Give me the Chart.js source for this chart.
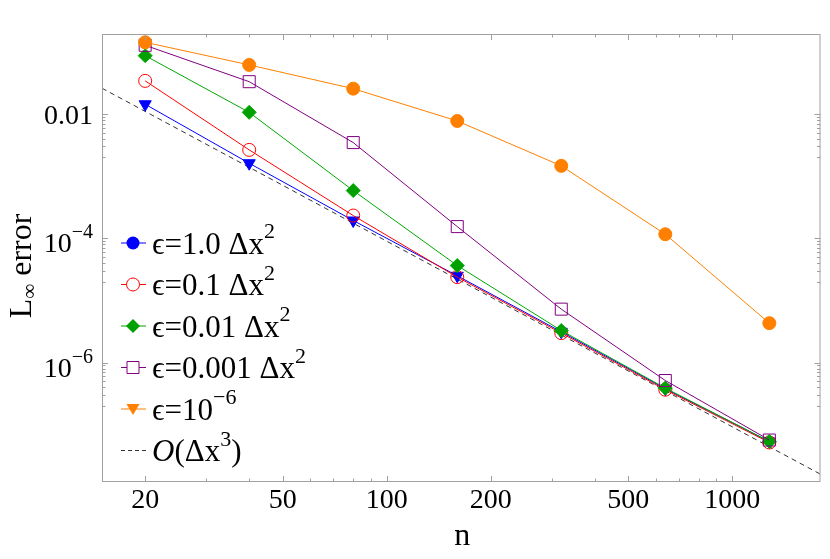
<!DOCTYPE html>
<html>
<head>
<meta charset="utf-8">
<script src="https://cdn.jsdelivr.net/npm/chart.js@4.4.1/dist/chart.umd.min.js"></script>
<style>
  html, body { margin: 0; padding: 0; background: #fff; }
  #wrap { width: 830px; height: 559px; }
</style>
</head>
<body>
<div id="wrap"><canvas id="errChart" width="830" height="559"></canvas></div>
<script>
// L-infinity error against n, log-log

const nValues = [20, 40, 80, 160, 320, 640, 1280]

const errEps1 = [0.0143, 0.00161, 1.93e-4, 2.49e-5, 3.13e-6, 3.8e-7, 5.37e-8]
const errEps01 = [0.034, 0.00264, 2.32e-4, 2.37e-5, 2.98e-6, 3.66e-7, 5.19e-8]
const errEps001 = [0.0865, 0.0106, 5.85e-4, 3.64e-5, 3.28e-6, 3.89e-7, 5.4e-8]
const errEps0001 = [0.127, 0.033, 0.00346, 1.54e-4, 7.24e-6, 5.15e-7, 5.68e-8]
const errEps1e6 = [0.142, 0.0614, 0.0255, 0.0077, 0.00146, 1.16e-4, 4.31e-6]

// third order reference line, just its two ends
const refN = [15, 1800]
const refErr = [0.0259, 1.6e-8]

const xTickLabels = [20, 50, 100, 200, 500, 1000]
const xMinorTicks = [30, 40, 60, 70, 80, 90, 300, 400, 600, 700, 800, 900]
const yTickLabels = [1e-2, 1e-4, 1e-6]
const yTickText = [[['0.01']], [['10'], ['\u22124', 'sup']], [['10'], ['\u22126', 'sup']]]
const yMinorMult = [2, 3, 4, 5, 6, 7, 8, 9]

// legend rows (markers as drawn in the original legend)
const legendText = [
  [['\u03f5=1.0 \u0394x'], ['2', 'sup']],
  [['\u03f5=0.1 \u0394x'], ['2', 'sup']],
  [['\u03f5=0.01 \u0394x'], ['2', 'sup']],
  [['\u03f5=0.001 \u0394x'], ['2', 'sup']],
  [['\u03f5=10'], ['\u22126', 'sup']],
  [['O', 'ital'], ['(\u0394x'], ['3', 'sup'], [')']]
]
const legendColors = ['#0000ff', '#ff0000', '#00a000', '#800080', '#ff8000', '#333333']
const legendMarkers = ['circle', 'openCircle', 'diamond', 'openSquare', 'triangleDown', 'dash']

const SERIF = '"Liberation Serif", "DejaVu Serif", serif'

function drawRich(ctx, parts, x, y, size, align) {
  const supSize = Math.round(size * 0.7)
  const fontFor = p => {
    if (p[1] === 'sup') return supSize + 'px ' + SERIF
    if (p[1] === 'ital') return 'italic ' + size + 'px ' + SERIF
    return size + 'px ' + SERIF
  }
  let total = 0
  parts.forEach(p => { ctx.font = fontFor(p); total += ctx.measureText(p[0]).width })
  let cx = align === 'right' ? x - total : align === 'center' ? x - total / 2 : x
  ctx.textAlign = 'left'
  ctx.textBaseline = 'alphabetic'
  parts.forEach(p => {
    ctx.font = fontFor(p)
    const dy = p[1] === 'sup' ? -size * 0.5 : 0
    ctx.fillText(p[0], cx, y + dy)
    cx += ctx.measureText(p[0]).width
  })
}

function drawMarker(ctx, kind, x, y, color) {
  ctx.save()
  ctx.strokeStyle = color
  ctx.fillStyle = color
  ctx.lineWidth = 1
  ctx.beginPath()
  if (kind === 'dash') {
    ctx.setLineDash([4, 3])
    ctx.moveTo(x - 12, y); ctx.lineTo(x + 13, y); ctx.stroke()
    ctx.restore()
    return
  }
  ctx.moveTo(x - 12, y); ctx.lineTo(x + 13, y); ctx.stroke()
  ctx.beginPath()
  if (kind === 'circle') { ctx.arc(x, y, 6.5, 0, Math.PI * 2); ctx.fill() }
  if (kind === 'openCircle') { ctx.fillStyle = '#fff'; ctx.arc(x, y, 6.5, 0, Math.PI * 2); ctx.fill(); ctx.stroke() }
  if (kind === 'diamond') { ctx.moveTo(x, y - 7); ctx.lineTo(x + 7, y); ctx.lineTo(x, y + 7); ctx.lineTo(x - 7, y); ctx.closePath(); ctx.fill() }
  if (kind === 'openSquare') { ctx.fillStyle = '#fff'; ctx.rect(x - 6, y - 6, 12, 12); ctx.fill(); ctx.stroke() }
  if (kind === 'triangleDown') { ctx.moveTo(x - 6.5, y - 5); ctx.lineTo(x + 6.5, y - 5); ctx.lineTo(x, y + 6); ctx.closePath(); ctx.fill() }
  ctx.restore()
}

// frame, inward ticks, y labels, axis titles and the inset legend
const mmaFrame = {
  id: 'mmaFrame',
  afterDatasetsDraw(chart) {
    const ctx = chart.ctx
    const a = chart.chartArea
    const xs = chart.scales.x
    const ys = chart.scales.y
    ctx.save()
    ctx.strokeStyle = '#a0a0a0'
    ctx.lineWidth = 1
    ctx.strokeRect(a.left + 0.5, a.top + 0.5, a.right - a.left - 1, a.bottom - a.top - 1)

    const xTick = (v, len) => {
      const px = Math.round(xs.getPixelForValue(v)) + 0.5
      ctx.beginPath()
      ctx.moveTo(px, a.bottom); ctx.lineTo(px, a.bottom - len)
      ctx.moveTo(px, a.top); ctx.lineTo(px, a.top + len)
      ctx.stroke()
    }
    const yTick = (v, len) => {
      if (v < ys.min || v > ys.max) return
      const py = Math.round(ys.getPixelForValue(v)) + 0.5
      ctx.beginPath()
      ctx.moveTo(a.left, py); ctx.lineTo(a.left + len, py)
      ctx.moveTo(a.right, py); ctx.lineTo(a.right - len, py)
      ctx.stroke()
    }
    xTickLabels.forEach(v => xTick(v, 6))
    xMinorTicks.forEach(v => xTick(v, 3.5))
    yTickLabels.forEach(v => {
      yTick(v, 6)
      yMinorMult.forEach(m => yTick(v * m / 10, 3.5))
    })

    ctx.fillStyle = '#000'
    yTickLabels.forEach((v, i) => {
      const py = ys.getPixelForValue(v)
      const hasSup = yTickText[i].length > 1
      drawRich(ctx, yTickText[i], a.left - 9, py + (hasSup ? 14 : 10), 28, 'right')
    })

    // axis titles
    drawRich(ctx, [['n']], (a.left + a.right) / 2 + 1, 545, 32, 'center')
    ctx.save()
    ctx.translate(31, 266)
    ctx.rotate(-Math.PI / 2)
    ctx.font = '32px ' + SERIF
    const wL = ctx.measureText('L').width
    ctx.font = '21px ' + SERIF
    const wInf = ctx.measureText('\u221e').width
    ctx.font = '32px ' + SERIF
    const wErr = ctx.measureText(' error').width
    let tx = -(wL + wInf + wErr) / 2
    ctx.textBaseline = 'alphabetic'
    ctx.textAlign = 'left'
    ctx.fillText('L', tx, 0); tx += wL
    ctx.font = '21px ' + SERIF
    ctx.fillText('\u221e', tx, 5); tx += wInf
    ctx.font = '32px ' + SERIF
    ctx.fillText(' error', tx, 0)
    ctx.restore()

    // legend inside the plot
    const rowY = [243, 284.5, 326, 367.5, 409, 450.5]
    legendText.forEach((parts, i) => {
      drawMarker(ctx, legendMarkers[i], 133, rowY[i], legendColors[i])
      ctx.fillStyle = '#000'
      drawRich(ctx, parts, 152, rowY[i] + 10.5, 31, 'left')
    })
    ctx.restore()
  }
}

const toPoints = ys => ys.map((y, i) => ({ x: nValues[i], y: y }))

const errCtx = document.getElementById('errChart').getContext('2d')
const errChart = new Chart(errCtx, {
  type: 'line',
  data: {
    datasets: [
      {
        label: '\u03f5=1.0 \u0394x\u00b2',
        data: toPoints(errEps1),
        borderColor: '#0000ff',
        backgroundColor: '#0000ff',
        pointStyle: 'triangle',
        pointRotation: 180,
        pointRadius: 7,
        borderWidth: 1,
        order: 4
      },
      {
        label: '\u03f5=0.1 \u0394x\u00b2',
        data: toPoints(errEps01),
        borderColor: '#ff0000',
        backgroundColor: 'rgba(0,0,0,0)',
        pointStyle: 'circle',
        pointRadius: 6.5,
        pointBorderWidth: 1,
        borderWidth: 1,
        order: 3
      },
      {
        label: '\u03f5=0.01 \u0394x\u00b2',
        data: toPoints(errEps001),
        borderColor: '#00a800',
        backgroundColor: '#00a000',
        pointStyle: 'rectRot',
        pointRadius: 7,
        borderWidth: 1,
        order: 2
      },
      {
        label: '\u03f5=0.001 \u0394x\u00b2',
        data: toPoints(errEps0001),
        borderColor: '#800080',
        backgroundColor: 'rgba(0,0,0,0)',
        pointStyle: 'rect',
        pointRadius: 8.5,
        pointBorderWidth: 1,
        borderWidth: 1,
        order: 1
      },
      {
        label: '\u03f5=10\u207b\u2076',
        data: toPoints(errEps1e6),
        borderColor: '#ff8000',
        backgroundColor: '#ff8000',
        pointStyle: 'circle',
        pointRadius: 6.5,
        borderWidth: 1,
        order: 0
      },
      {
        label: 'O(\u0394x\u00b3)',
        data: refN.map((x, i) => ({ x: x, y: refErr[i] })),
        borderColor: '#333333',
        borderDash: [5, 4],
        borderWidth: 1,
        pointRadius: 0,
        order: 5
      }
    ]
  },
  options: {
    responsive: false,
    animation: false,
    events: [],
    layout: { padding: { left: 0, top: 34, right: 4, bottom: 0 } },
    elements: { line: { tension: 0 } },
    scales: {
      x: {
        type: 'logarithmic',
        min: 15,
        max: 1800,
        border: { display: false },
        grid: { display: false, drawTicks: false },
        afterBuildTicks: s => { s.ticks = xTickLabels.map(v => ({ value: v })) },
        afterFit: s => { s.height = 77 },
        ticks: {
          autoSkip: false,
          maxRotation: 0,
          padding: 2,
          color: '#000',
          font: { family: SERIF, size: 28 },
          callback: v => String(v)
        }
      },
      y: {
        type: 'logarithmic',
        min: 1.2e-8,
        max: 0.193,
        border: { display: false },
        grid: { display: false, drawTicks: false },
        afterFit: s => { s.width = 102 },
        ticks: { display: false }
      }
    },
    plugins: {
      legend: { display: false },
      tooltip: { enabled: false }
    }
  },
  plugins: [mmaFrame]
})
</script>
</body>
</html>
